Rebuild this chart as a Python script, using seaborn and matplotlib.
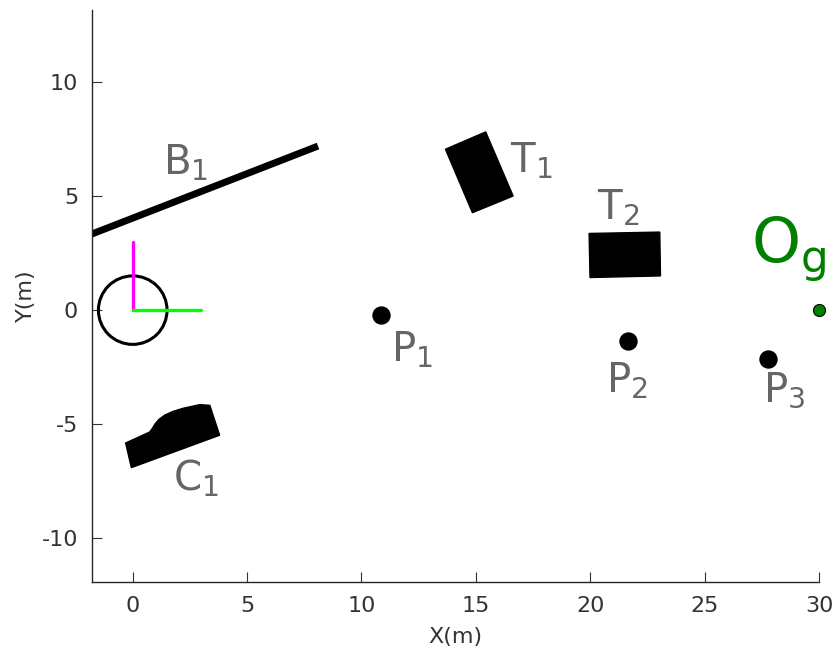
import numpy as np
import pandas as pd
import matplotlib
matplotlib.use("Agg")
import matplotlib.pyplot as plt
import seaborn as sns

# ---- data ----
wall_x = [-1.8, 8.1]
wall_y = [3.33, 7.19]

robot_center = (0.0, 0.0)
robot_radius = 1.5
axis_y_x = [0.0, 0.0]
axis_y_y = [0.0, 3.0]
axis_x_x = [0.0, 3.0]
axis_x_y = [0.0, 0.0]

ped_names = ["P1", "P2", "P3"]
ped_x = [10.84, 21.64, 27.77]
ped_y = [-0.22, -1.36, -2.15]

goal_x = [30.0]
goal_y = [0.0]

t1_x = [13.67, 15.43, 16.63, 14.85]
t1_y = [7.05, 7.81, 5.00, 4.27]
t2_x = [19.95, 23.04, 23.07, 19.99]
t2_y = [3.36, 3.42, 1.50, 1.43]
c1_x = [-0.31, 0.74, 0.86, 0.98, 1.15, 1.40, 1.75, 2.20, 2.93, 3.37, 3.80, -0.06]
c1_y = [-5.82, -5.34, -5.18, -4.98, -4.78, -4.60, -4.44, -4.30, -4.14, -4.17, -5.48, -6.90]

labels = [r"$\mathregular{B_1}$", r"$\mathregular{T_1}$", r"$\mathregular{T_2}$",
          r"$\mathregular{C_1}$", r"$\mathregular{P_1}$", r"$\mathregular{P_2}$",
          r"$\mathregular{P_3}$"]
label_x = [2.3, 17.4, 21.2, 2.75, 12.2, 21.6, 28.5]
label_y = [6.45, 6.55, 4.45, -7.38, -1.75, -3.1, -3.5]

goal_label = r"$\mathregular{O_g}$"
goal_label_xy = (28.7, 2.65)

xlim = (-1.78, 30.0)
ylim = (-11.91, 13.15)
xticks = [0, 5, 10, 15, 20, 25, 30]
yticks = [-10, -5, 0, 5, 10]

# ---- plot ----
sns.set_theme(style="ticks")
plt.rcParams["font.family"] = ["DejaVu Sans"]

fig = plt.figure(figsize=(8.36, 6.53), dpi=100)
ax = fig.add_axes([92 / 836, 1 - 582 / 653, (819 - 92) / 836, (582 - 10) / 653])

sns.lineplot(x=wall_x, y=wall_y, ax=ax, color="black", linewidth=5.0,
             solid_capstyle="butt", sort=False, estimator=None)
ax.add_patch(plt.Circle(robot_center, robot_radius, fill=False,
                        edgecolor="black", linewidth=2.2, zorder=3))
sns.lineplot(x=axis_y_x, y=axis_y_y, ax=ax, color="#ff00ff", linewidth=2.4,
             sort=False, estimator=None, zorder=4)
sns.lineplot(x=axis_x_x, y=axis_x_y, ax=ax, color="#00ff00", linewidth=2.4,
             sort=False, estimator=None, zorder=4)

ax.fill(t1_x, t1_y, color="black", zorder=3)
ax.fill(t2_x, t2_y, color="black", zorder=3)
ax.fill(c1_x, c1_y, color="black", zorder=3)

ped_df = pd.DataFrame({"x": ped_x, "y": ped_y, "name": ped_names})
sns.scatterplot(data=ped_df, x="x", y="y", ax=ax, color="black", s=150,
                edgecolor="black", zorder=4, legend=False)
sns.scatterplot(x=goal_x, y=goal_y, ax=ax, color="green", s=75,
                edgecolor="black", linewidth=0.8, zorder=5, legend=False,
                clip_on=False)

for t, lx, ly in zip(labels, label_x, label_y):
    ax.text(lx, ly, t, fontsize=29, color="#666666", ha="center", va="center")
ax.text(goal_label_xy[0], goal_label_xy[1], goal_label, fontsize=45,
        color="green", ha="center", va="center")

ax.set_xlim(*xlim)
ax.set_ylim(*ylim)
ax.set_xticks(xticks)
ax.set_yticks(yticks)
ax.set_yticklabels([str(v) for v in yticks])
ax.set_xlabel("X(m)", fontsize=16, color="#333333", labelpad=8)
ax.set_ylabel("Y(m)", fontsize=16, color="#333333", labelpad=4)
ax.tick_params(direction="in", length=7, width=0.8, colors="#333333",
               labelsize=16, pad=10)
for s in ["left", "bottom"]:
    ax.spines[s].set_color("#262626")
    ax.spines[s].set_linewidth(1.0)
sns.despine(ax=ax)

fig.savefig("out.png", dpi=100)
